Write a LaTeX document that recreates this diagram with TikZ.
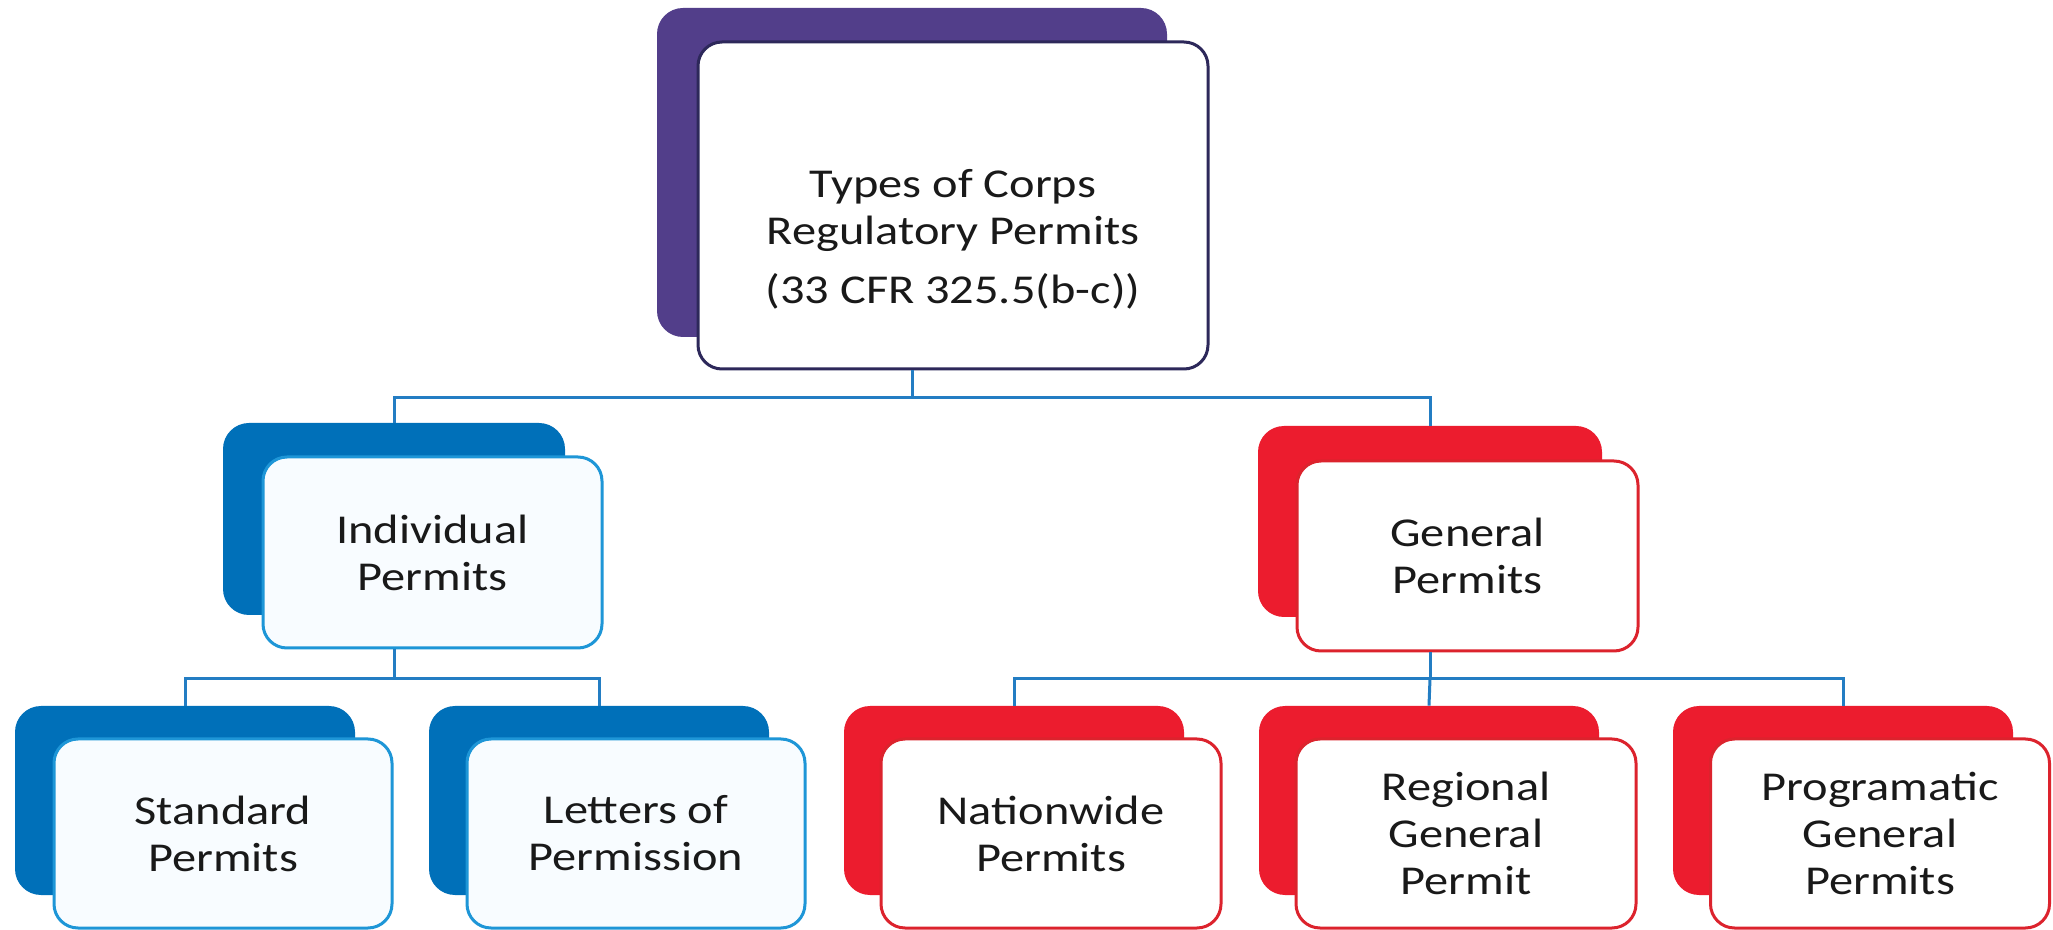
\documentclass[tikz,border=0pt]{standalone}
\usepackage{fontspec}
\newfontfamily\boxfont[FakeStretch=1.18]{Carlito}
\definecolor{purpleback}{RGB}{82,62,138}
\definecolor{purpleline}{RGB}{45,40,90}
\definecolor{blueback}{RGB}{0,112,185}
\definecolor{blueline}{RGB}{30,150,215}
\definecolor{redback}{RGB}{236,28,46}
\definecolor{redline}{RGB}{220,35,45}
\definecolor{conncol}{RGB}{35,125,195}
\definecolor{txt}{RGB}{25,25,25}
\definecolor{bluefill}{RGB}{248,252,255}
\begin{document}
\begin{tikzpicture}[x=0.5pt,y=-0.5pt,
  backbox/.style={rectangle, rounded corners=13pt, inner sep=0pt, draw=none},
  frontbox/.style={rectangle, rounded corners=12pt, inner sep=0pt, line width=1.5pt,
    fill=white, text=txt, align=center,
    font=\boxfont\fontsize{20.5pt}{23.5pt}\selectfont},
  conn/.style={draw=conncol, line width=1.5pt},
  boxtext/.style={text=txt, align=center, inner sep=0pt,
    font=\boxfont\fontsize{20.5pt}{23.5pt}\selectfont}]
\useasboundingbox (0,0) rectangle (2053,930);
\fill[white] (0,0) rectangle (2053,930);

% connectors (drawn first, behind boxes)
\coordinate (j1) at (912,398);
\coordinate (j2) at (394,679);
\coordinate (j3) at (1430,679);

% top
\node[backbox, fill=purpleback, minimum width=255pt, minimum height=164.5pt] (topB) at (912,172.5) {};
\node[frontbox, draw=purpleline, minimum width=255pt, minimum height=163.5pt] (top) at (953,205.5) {};
\node[boxtext] (topText) at (953,239) {Types of Corps\\Regulatory Permits\\[6pt](33 CFR 325.5(b-c))};

% middle
\node[backbox, fill=blueback, minimum width=171pt, minimum height=96pt] (indB) at (394,519) {};
\node[frontbox, draw=blueline, fill=bluefill, minimum width=169.5pt, minimum height=95.5pt] (ind) at (432.5,552.5) {Individual\\Permits};

\node[backbox, fill=redback, minimum width=172pt, minimum height=95.5pt] (genB) at (1430,521.5) {};
\node[frontbox, draw=redline, minimum width=170.5pt, minimum height=95pt] (gen) at (1467.5,556) {General\\Permits};

% bottom
\node[backbox, fill=blueback, minimum width=170pt, minimum height=94.5pt] (stdB) at (185,800.5) {};
\node[frontbox, draw=blueline, fill=bluefill, minimum width=169pt, minimum height=94.5pt] (std) at (223,833.5) {Standard\\Permits};

\node[backbox, fill=blueback, minimum width=170pt, minimum height=94.5pt] (letB) at (599,800.5) {};
\node[frontbox, draw=blueline, fill=bluefill, minimum width=169pt, minimum height=94.5pt] (let) at (636,833.5) {Letters of\\Permission};

\node[backbox, fill=redback, minimum width=170pt, minimum height=94.5pt] (natB) at (1014,800.5) {};
\node[frontbox, draw=redline, minimum width=170pt, minimum height=94.5pt] (nat) at (1051,833.5) {Nationwide\\Permits};

\node[backbox, fill=redback, minimum width=170pt, minimum height=94.5pt] (regB) at (1429,800.5) {};
\node[frontbox, draw=redline, minimum width=170pt, minimum height=94.5pt] (reg) at (1466,833.5) {Regional\\General\\Permit};

\node[backbox, fill=redback, minimum width=170pt, minimum height=94.5pt] (progB) at (1843,800.5) {};
\node[frontbox, draw=redline, minimum width=169.5pt, minimum height=94.5pt] (prog) at (1880,833.5) {Programatic\\General\\Permits};

% connectors
\draw[conn] (top.south -| topB.center) -- (j1);
\draw[conn] (indB.north) |- (j1) -| (genB.north);
\draw[conn] (ind.south -| indB.center) -- (j2);
\draw[conn] (stdB.north) |- (j2) -| (letB.north);
\draw[conn] (gen.south -| genB.center) -- (j3);
\draw[conn] (natB.north) |- (j3) -| (progB.north);
\draw[conn] (j3) -- (regB.north);
\end{tikzpicture}
\end{document}
